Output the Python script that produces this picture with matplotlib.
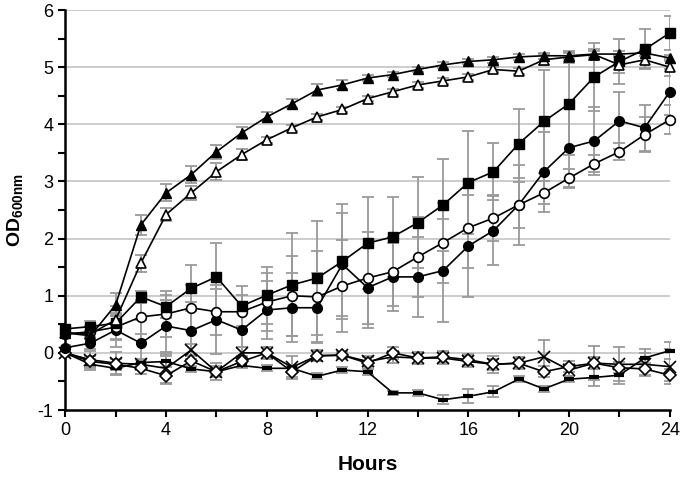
import numpy as np
import matplotlib
matplotlib.use("Agg")
import matplotlib.pyplot as plt
from matplotlib.ticker import MultipleLocator

# --- data ---
hours = list(range(25))

tri_fill = [0.35, 0.30, 0.84, 2.24, 2.80, 3.12, 3.52, 3.85, 4.13, 4.36, 4.60, 4.69, 4.81,
            4.87, 4.96, 5.04, 5.10, 5.13, 5.18, 5.20, 5.20, 5.23, 5.23, 5.25, 5.16]
tri_fill_err = [0.05, 0.05, 0.20, 0.18, 0.15, 0.15, 0.12, 0.10, 0.08, 0.08, 0.10, 0.08, 0.06,
                0.05, 0.05, 0.05, 0.05, 0.05, 0.05, 0.05, 0.05, 0.05, 0.05, 0.05, 0.05]

tri_open = [0.35, 0.33, 0.58, 1.57, 2.42, 2.80, 3.17, 3.47, 3.73, 3.94, 4.13, 4.26, 4.45,
            4.57, 4.69, 4.76, 4.83, 4.96, 4.93, 5.13, 5.18, 5.22, 5.04, 5.13, 5.00]
tri_open_err = [0.05, 0.05, 0.10, 0.15, 0.12, 0.12, 0.15, 0.10, 0.05, 0.05, 0.05, 0.05, 0.05,
                0.05, 0.05, 0.05, 0.05, 0.05, 0.05, 0.10, 0.10, 0.10, 0.15, 0.15, 0.15]

sq_fill = [0.42, 0.46, 0.52, 0.98, 0.81, 1.13, 1.33, 0.82, 1.01, 1.19, 1.31, 1.60, 1.92,
           2.03, 2.28, 2.59, 2.98, 3.17, 3.66, 4.05, 4.36, 4.83, 5.10, 5.31, 5.60]
sq_fill_err = [0.05, 0.10, 0.30, 0.10, 0.20, 0.40, 0.60, 0.35, 0.50, 0.90, 1.00, 1.00, 0.80,
               0.70, 0.80, 0.80, 0.90, 0.50, 0.60, 0.90, 0.90, 0.60, 0.40, 0.35, 0.30]

circ_fill = [0.09, 0.17, 0.40, 0.17, 0.47, 0.39, 0.58, 0.40, 0.75, 0.79, 0.79, 1.55, 1.14,
             1.33, 1.33, 1.44, 1.87, 2.14, 2.59, 3.17, 3.59, 3.71, 4.06, 3.94, 4.57]
circ_fill_err = [0.05, 0.10, 0.30, 0.40, 0.45, 0.50, 0.60, 0.30, 0.50, 0.60, 0.60, 0.90, 0.70,
                 0.60, 0.70, 0.90, 0.90, 0.60, 0.70, 0.70, 0.70, 0.60, 0.50, 0.40, 0.40]

circ_open = [0.33, 0.37, 0.45, 0.63, 0.68, 0.79, 0.72, 0.72, 0.89, 1.00, 0.98, 1.17, 1.31,
             1.42, 1.68, 1.93, 2.19, 2.36, 2.59, 2.80, 3.06, 3.31, 3.52, 3.82, 4.08]
circ_open_err = [0.05, 0.10, 0.20, 0.30, 0.40, 0.40, 0.40, 0.30, 0.50, 0.70, 0.80, 0.80, 0.80,
                 0.60, 0.70, 0.70, 0.70, 0.40, 0.40, 0.20, 0.15, 0.15, 0.15, 0.30, 0.25]

cross = [0.00, -0.12, -0.18, -0.20, -0.27, 0.05, -0.33, 0.00, 0.00, -0.25, -0.05, -0.04, -0.15,
         -0.07, -0.09, -0.09, -0.15, -0.20, -0.18, -0.07, -0.30, -0.18, -0.20, -0.20, -0.24]
cross_err = [0.05, 0.15, 0.20, 0.10, 0.25, 0.10, 0.15, 0.10, 0.10, 0.20, 0.10, 0.05, 0.10,
             0.10, 0.10, 0.10, 0.10, 0.15, 0.10, 0.30, 0.10, 0.30, 0.30, 0.20, 0.30]

diamond = [0.00, -0.15, -0.20, -0.27, -0.40, -0.14, -0.33, -0.15, 0.00, -0.33, -0.05, -0.04, -0.18,
           0.00, -0.09, -0.07, -0.12, -0.20, -0.18, -0.33, -0.24, -0.18, -0.26, -0.28, -0.39]
diamond_err = [0.05, 0.10, 0.10, 0.10, 0.15, 0.10, 0.10, 0.10, 0.10, 0.10, 0.10, 0.05, 0.10,
               0.10, 0.10, 0.10, 0.10, 0.10, 0.10, 0.10, 0.10, 0.10, 0.10, 0.10, 0.10]

dash = [0.00, -0.20, -0.27, -0.17, -0.15, -0.28, -0.33, -0.22, -0.27, -0.27, -0.41, -0.30, -0.33,
        -0.70, -0.70, -0.82, -0.76, -0.68, -0.46, -0.63, -0.46, -0.43, -0.39, -0.09, 0.04]
dash_err = [0.05, 0.10, 0.10, 0.05, 0.10, 0.05, 0.05, 0.05, 0.05, 0.05, 0.05, 0.05, 0.05,
            0.03, 0.05, 0.08, 0.12, 0.10, 0.05, 0.05, 0.05, 0.15, 0.15, 0.15, 0.15]

plt.rcParams.update({
    "font.family": ["Liberation Sans", "DejaVu Sans"],
    "mathtext.fontset": "custom",
    "mathtext.rm": "Liberation Sans",
    "mathtext.bf": "Liberation Sans:bold",
    "axes.unicode_minus": False,
})

fig = plt.figure(figsize=(6.8, 4.79), dpi=100)
ax = fig.add_axes([0.096, 0.144, 0.889, 0.835])

err_style = dict(ecolor="#9a9a9a", elinewidth=1.3, capsize=4, capthick=1.3)
line_style = dict(color="black", lw=1.2)

series = [
    (dash, dash_err, dict(marker="_", ms=7, mew=3, mfc="black", mec="black")),
    (cross, cross_err, dict(marker="x", ms=9, mew=1.2, mec="black")),
    (diamond, diamond_err, dict(marker="D", ms=6, mew=1.2, mfc="white", mec="black")),
    (circ_fill, circ_fill_err, dict(marker="o", ms=7, mfc="black", mec="black")),
    (circ_open, circ_open_err, dict(marker="o", ms=7, mew=1.2, mfc="white", mec="black")),
    (sq_fill, sq_fill_err, dict(marker="s", ms=7, mfc="black", mec="black")),
    (tri_open, tri_open_err, dict(marker="^", ms=7, mew=1.2, mfc="white", mec="black")),
    (tri_fill, tri_fill_err, dict(marker="^", ms=7, mfc="black", mec="black")),
]

for vals, errs, mk in series:
    ax.errorbar(hours, vals, yerr=errs, fmt="none", zorder=2, **err_style)
for vals, errs, mk in series:
    ax.plot(hours, vals, zorder=3, clip_on=False, **line_style, **mk)

ax.set_xlim(0, 24)
ax.set_ylim(-1, 6)
ax.xaxis.set_major_locator(MultipleLocator(4))
ax.xaxis.set_minor_locator(MultipleLocator(2))
ax.yaxis.set_major_locator(MultipleLocator(1))
ax.yaxis.set_minor_locator(MultipleLocator(0.5))
ax.tick_params(which="both", direction="out", length=5, width=1.5, color="black")
ax.tick_params(axis="both", labelsize=13)

ax.spines["top"].set_visible(False)
ax.spines["right"].set_visible(False)
ax.spines["left"].set_linewidth(1.8)
ax.spines["bottom"].set_linewidth(1.8)

for g in range(0, 7):
    ax.axhline(g, color="#c8c8c8", lw=1.3, zorder=1)

ax.set_xlabel("Hours", fontsize=15, fontweight="bold", labelpad=12)
ax.set_ylabel(r"OD$_{\mathbf{600nm}}$", fontsize=14, fontweight="bold", labelpad=8)

fig.savefig("out.png", dpi=100)
